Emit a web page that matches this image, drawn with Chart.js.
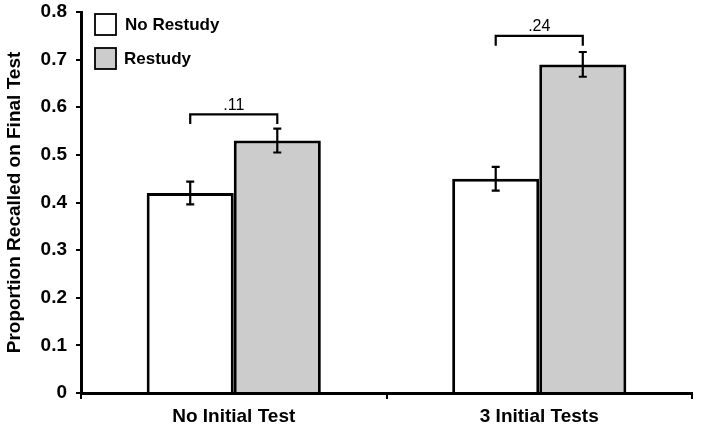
<!DOCTYPE html>
<html>
<head>
<meta charset="utf-8">
<script src="https://cdn.jsdelivr.net/npm/chart.js@4.4.1/dist/chart.umd.min.js"></script>
<style>
  html, body { margin: 0; padding: 0; background: #fff; }
  #wrap { width: 701px; height: 430px; }
</style>
</head>
<body>
<div id="wrap"><canvas id="chart"></canvas></div>
<script>
// data
const categories = ['No Initial Test', '3 Initial Tests'];
const seriesNames = ['No Restudy', 'Restudy'];
const noRestudy = [0.42, 0.45];
const restudy = [0.53, 0.69];
const noRestudyErr = [0.024, 0.025];
const restudyErr = [0.025, 0.026];
// difference brackets: label, height of bar, leg bottom
const diffLabels = ['.11', '.24'];
const bracketTop = [0.585, 0.75];
const bracketLeg = [0.565, 0.729];
const yTicks = [0, 0.1, 0.2, 0.3, 0.4, 0.5, 0.6, 0.7, 0.8];

const FONT = '"Liberation Sans", Arial, sans-serif';

// error bars + brackets + legend drawn on top of the bars
const extras = {
    id: 'extras',
    afterDatasetsDraw(chart) {
        const ctx = chart.ctx;
        const y = chart.scales.y;
        const errs = [noRestudyErr, restudyErr];
        ctx.save();
        ctx.strokeStyle = '#000';
        ctx.lineWidth = 2.2;
        // error bars
        chart.data.datasets.forEach((ds, di) => {
            const meta = chart.getDatasetMeta(di);
            meta.data.forEach((bar, i) => {
                const v = ds.data[i];
                const hi = y.getPixelForValue(v + errs[di][i]);
                const lo = y.getPixelForValue(v - errs[di][i]);
                ctx.beginPath();
                ctx.moveTo(bar.x, hi); ctx.lineTo(bar.x, lo);
                ctx.moveTo(bar.x - 4, hi); ctx.lineTo(bar.x + 4, hi);
                ctx.moveTo(bar.x - 4, lo); ctx.lineTo(bar.x + 4, lo);
                ctx.stroke();
            });
        });
        // brackets
        const m0 = chart.getDatasetMeta(0), m1 = chart.getDatasetMeta(1);
        ctx.font = '16px ' + FONT;
        ctx.fillStyle = '#000';
        ctx.textAlign = 'center';
        ctx.textBaseline = 'bottom';
        categories.forEach((c, i) => {
            const x0 = m0.data[i].x, x1 = m1.data[i].x;
            const top = y.getPixelForValue(bracketTop[i]);
            const leg = y.getPixelForValue(bracketLeg[i]);
            ctx.beginPath();
            ctx.moveTo(x0, leg); ctx.lineTo(x0, top);
            ctx.lineTo(x1, top); ctx.lineTo(x1, leg);
            ctx.stroke();
            ctx.fillText(diffLabels[i], (x0 + x1) / 2, top - 1);
        });
        // legend
        const lx = chart.chartArea.left + 14;
        const ly = chart.chartArea.top + 2;
        ctx.font = 'bold 17px ' + FONT;
        ctx.textAlign = 'left';
        ctx.textBaseline = 'middle';
        chart.data.datasets.forEach((ds, di) => {
            const by = ly + di * 34;
            ctx.fillStyle = ds.backgroundColor;
            ctx.fillRect(lx, by, 21, 21);
            ctx.lineWidth = 1.8;
            ctx.strokeRect(lx, by, 21, 21);
            ctx.fillStyle = '#000';
            ctx.fillText(ds.label, lx + 30 - di, by + 11);
        });
        ctx.restore();
    }
};

new Chart(document.getElementById('chart'), {
    type: 'bar',
    plugins: [extras],
    data: {
        labels: categories,
        datasets: [
            { label: seriesNames[0], data: noRestudy, backgroundColor: '#ffffff', borderColor: '#000', borderWidth: 3 },
            { label: seriesNames[1], data: restudy, backgroundColor: '#cccccc', borderColor: '#000', borderWidth: 3 }
        ]
    },
    options: {
        responsive: true,
        maintainAspectRatio: false,
        animation: false,
        layout: { padding: { top: 12, right: 9, left: 3, bottom: 0 } },
        plugins: { legend: { display: false }, tooltip: { enabled: false } },
        datasets: { bar: { barPercentage: 1, categoryPercentage: 0.57 } },
        scales: {
            x: {
                grid: { drawOnChartArea: false, color: '#000', lineWidth: 2, tickLength: 6 },
                border: { color: '#000', width: 3 },
                ticks: { color: '#000', font: { family: FONT, size: 19, weight: 'bold' }, padding: 6 },
                afterFit(s) { s.height = 37; }
            },
            y: {
                min: 0, max: 0.8,
                afterBuildTicks(s) { s.ticks = yTicks.map(v => ({ value: v })); },
                grid: { drawOnChartArea: false, color: '#000', lineWidth: 2, tickLength: 5 },
                border: { color: '#000', width: 3 },
                ticks: {
                    color: '#000', padding: 9,
                    font: { family: FONT, size: 19, weight: 'bold' },
                    callback: v => v === 0 ? '0' : v.toFixed(1)
                },
                title: {
                    display: true, text: 'Proportion Recalled on Final Test', color: '#000',
                    font: { family: FONT, size: 19, weight: 'bold' }, padding: { top: 0, bottom: 4 }
                },
                afterFit(s) { s.width = 78; s.paddingTop = 0; s.paddingBottom = 0; }
            }
        }
    }
});
</script>
</body>
</html>
